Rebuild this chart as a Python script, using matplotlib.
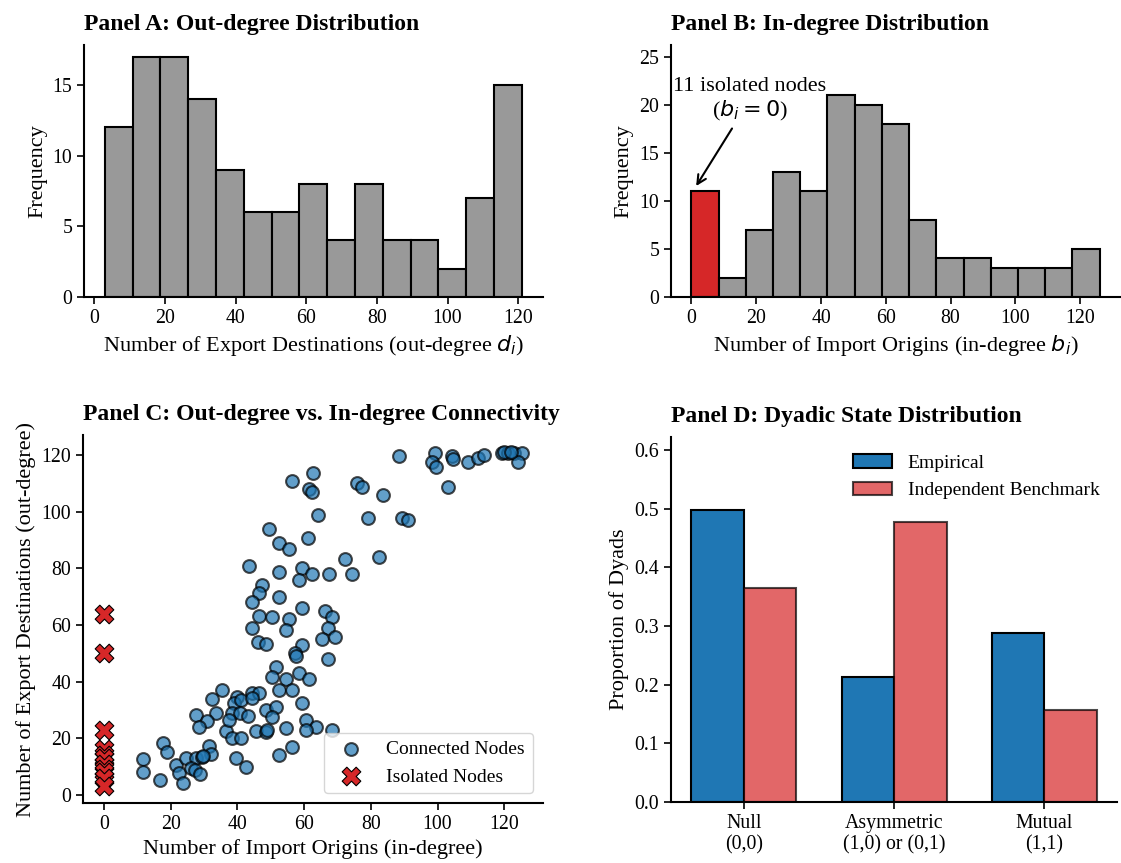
import numpy as np
import matplotlib.pyplot as plt

# Panel A / B: histogram counts (15 bins each)
out_range = (3, 121)
out_counts = [12, 17, 17, 14, 9, 6, 6, 8, 4, 8, 4, 4, 2, 7, 15]
in_range = (0, 126)
in_counts = [11, 2, 7, 13, 11, 21, 20, 18, 8, 4, 4, 3, 3, 3, 5]

# Panel C: connected nodes (in-degree, out-degree)
conn_in = [88.3, 99.1, 98.2, 99.4, 104.2, 104.5, 109, 112, 114, 119.2, 121, 123, 125.2, 124,
           103, 89.2, 91, 83.5, 62.6, 56.5, 61.6, 62.5, 76, 77.5, 64.3, 79.3, 49.5, 61.3,
           52.6, 55.6, 72.4, 82.3, 43.6, 52.6, 59.5, 58.6, 62.5, 67.6, 74.5,
           47.5, 46.6, 44.5, 52.6, 59.5, 66.4, 68.5, 46.6, 50.5, 55.6, 44.5, 54.7, 67.3,
           65.5, 69.4, 46.3, 48.6, 59.5, 57.4, 57.7, 67.3, 51.7, 50.5, 54.7, 58.6, 61.6,
           52.6, 56.5, 35.4, 32.4, 40, 39, 41, 44.5, 46.6, 44.5, 59.5, 48.6, 51.7, 50.5,
           38.4, 40.8, 43.2, 33.6, 27.6, 30.9, 28.5, 36.5, 37.5, 38.4, 41.1, 31.5, 32.1,
           17.7, 18.9, 11.7, 11.7, 16.8, 21.6, 22.5, 23.7, 24.6, 27.6, 29.4, 26.1, 27.2,
           28.8, 39.6, 42.6, 60.7, 63.7, 60.7, 54.7, 45.6, 48.6, 49, 68.5, 56.5, 52.6,
           29.8, 120, 122]
conn_out = [119.7, 120.7, 117.5, 115.8, 119.7, 118.6, 117.5, 119, 120, 120.7, 120.7, 120.7, 120.7, 117.5,
            108.7, 97.8, 97, 106, 113.7, 110.8, 108, 107, 110, 108.7, 98.8, 97.8, 93.9, 90.7,
            89, 86.8, 83.3, 84, 80.8, 78.7, 80.1, 75.9, 78, 78, 78,
            74.1, 71.3, 68.1, 70, 66, 65, 62.8, 63.2, 62.8, 62.1, 58.9, 58.2, 58.9,
            55.1, 55.8, 54, 53.3, 52.9, 50.1, 49.1, 48, 45, 41.5, 41, 43, 41,
            37.1, 37.1, 37.1, 34, 34.6, 32.5, 33.5, 36, 36, 34.2, 32.5, 30, 31.1, 27.5,
            28.9, 29, 28, 28.9, 28.2, 26.1, 24, 22.5, 26.5, 20.1, 20.1, 17.3, 14.5,
            18.4, 15, 12.5, 8.1, 5.1, 10.6, 7.8, 4.2, 13.1, 13.1, 13.2, 9.5, 8.8,
            7.2, 13.1, 9.9, 26.5, 24, 22.9, 23.5, 22.5, 22.2, 23, 22.9, 17, 14.1,
            13.6, 121, 121]

# Panel C: isolated nodes (in-degree 0)
iso_out = [64, 50, 23, 16, 14, 13, 11, 9, 8, 6, 3]

# Panel D: dyadic states
dyad_labels = ["Null\n(0,0)", "Asymmetric\n(1,0) or (0,1)", "Mutual\n(1,1)"]
empirical = [0.498, 0.213, 0.289]
benchmark = [0.365, 0.478, 0.157]

plt.rcParams["font.family"] = ["Liberation Serif", "DejaVu Serif"]
plt.rcParams["font.size"] = 15
plt.rcParams["axes.labelsize"] = 16
plt.rcParams["xtick.labelsize"] = 14.3
plt.rcParams["ytick.labelsize"] = 14.3
plt.rcParams["axes.linewidth"] = 1.5
plt.rcParams["xtick.major.width"] = 1.2
plt.rcParams["ytick.major.width"] = 1.2
plt.rcParams["xtick.major.size"] = 5
plt.rcParams["ytick.major.size"] = 5

fig = plt.figure(figsize=(11.21, 8.63), dpi=100)
axA = fig.add_axes([0.075, 0.656, 0.409, 0.292])
axB = fig.add_axes([0.5986, 0.656, 0.4005, 0.292])
axC = fig.add_axes([0.074, 0.0695, 0.41, 0.426])
axD = fig.add_axes([0.5986, 0.0707, 0.398, 0.423])

for ax in (axA, axB, axC, axD):
    ax.spines["top"].set_visible(False)
    ax.spines["right"].set_visible(False)

title_kw = dict(loc="left", fontweight="bold", fontsize=17, pad=11)

# Panel A
edges = np.linspace(out_range[0], out_range[1], len(out_counts) + 1)
centers = (edges[:-1] + edges[1:]) / 2
axA.hist(centers, bins=edges, weights=out_counts, color="#999999", edgecolor="black", linewidth=1.5)
axA.set_title("Panel A: Out-degree Distribution", **title_kw)
axA.set_xlabel("Number of Export Destinations (out-degree $d_i$)")
axA.set_ylabel("Frequency")
axA.set_yticks([0, 5, 10, 15])

# Panel B
edges = np.linspace(in_range[0], in_range[1], len(in_counts) + 1)
centers = (edges[:-1] + edges[1:]) / 2
_, _, patches = axB.hist(centers, bins=edges, weights=in_counts, color="#999999",
                         edgecolor="black", linewidth=1.5)
patches[0].set_facecolor("#d62728")
axB.set_ylim(0, max(in_counts) * 1.25)
axB.set_yticks([0, 5, 10, 15, 20, 25])
axB.set_title("Panel B: In-degree Distribution", **title_kw)
axB.set_xlabel("Number of Import Origins (in-degree $b_i$)")
axB.set_ylabel("Frequency")
axB.annotate(f"{in_counts[0]} isolated nodes\n($b_i = 0$)", xy=(1.0, in_counts[0] + 0.3),
             xytext=(18, 20.5), ha="center", va="center", fontsize=16,
             arrowprops=dict(arrowstyle="->", color="black", lw=1.5))

# Panel C
axC.scatter(conn_in, conn_out, s=85, color="#1f77b4", alpha=0.7, edgecolor="black",
            linewidths=1.5, label="Connected Nodes")
axC.scatter(np.zeros(len(iso_out)), iso_out, s=180, marker="X", color="#d62728",
            edgecolor="black", linewidths=0.8, label="Isolated Nodes")
axC.set_title("Panel C: Out-degree vs. In-degree Connectivity", **title_kw)
axC.set_xlabel("Number of Import Origins (in-degree)")
axC.set_ylabel("Number of Export Destinations (out-degree)")
axC.set_xticks(np.arange(0, 121, 20))
axC.set_yticks(np.arange(0, 121, 20))
axC.legend(loc="lower right", fontsize=14)

# Panel D
x = np.arange(len(dyad_labels))
w = 0.35
axD.bar(x - w / 2, empirical, w, color="#1f77b4", edgecolor="black", linewidth=1.5, label="Empirical")
axD.bar(x + w / 2, benchmark, w, color="#d62728", alpha=0.7, edgecolor="black", linewidth=1.5,
        label="Independent Benchmark")
axD.set_xticks(x)
axD.set_xticklabels(dyad_labels)
axD.set_ylim(0, max(empirical) * 1.25)
axD.set_ylabel("Proportion of Dyads")
axD.set_title("Panel D: Dyadic State Distribution", **title_kw)
axD.legend(loc="upper right", frameon=False, fontsize=14)

plt.savefig("out.png", dpi=100)
